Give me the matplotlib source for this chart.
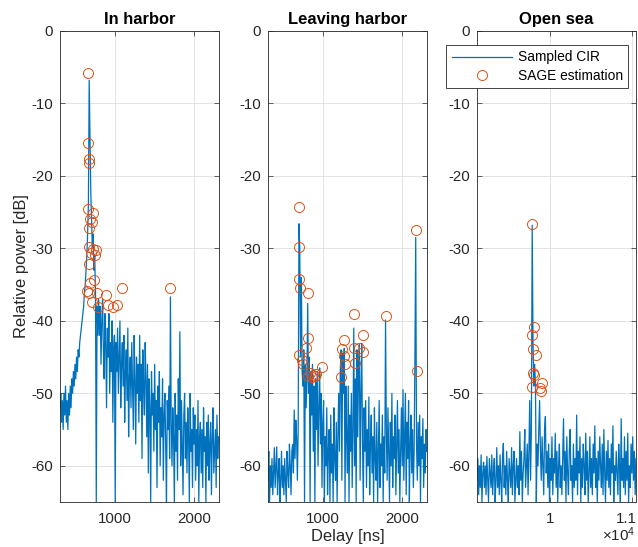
import numpy as np
import matplotlib
matplotlib.use("Agg")
import matplotlib.pyplot as plt
import matplotlib.transforms as mtransforms

# sampled CIR, relative power [dB], one value every 10 ns
step = 10

harbor_start = 300
harbor_cir = [
    -52, -50, -54, -51, -55, -50, -53, -49, -54, -51,
    -55, -50, -53, -49, -52, -48, -50, -47, -49, -46,
    -48, -45, -47, -44, -45, -43, -42, -41, -40, -39,
    -38, -36, -35, -33, -31, -28, -24, -6.8, -14, -22,
    -26, -30, -28, -33, -31, -36, -65, -38, -42, -37,
    -42, -38, -46, -40, -37, -44, -48, -39, -43, -52,
    -41, -45, -39, -50, -43, -47, -40, -54, -44, -42,
    -65, -43, -47, -41, -50, -45, -40, -52, -46, -43,
    -49, -42, -54, -47, -44, -51, -41, -56, -48, -45,
    -52, -43, -49, -55, -42, -48, -57, -45, -50, -46,
    -54, -42, -51, -46, -59, -44, -49, -53, -43, -48,
    -56, -46, -61, -48, -52, -65, -47, -53, -50, -58,
    -46, -55, -51, -63, -49, -54, -47, -60, -52, -56,
    -48, -62, -53, -50, -57, -65, -51, -55, -49, -59,
    -36.7, -54, -60, -52, -56, -65, -50, -58, -53, -62,
    -48, -55, -41.5, -60, -51, -57, -64, -53, -50, -59,
    -54, -61, -52, -56, -65, -50, -58, -55, -63, -52,
    -57, -53, -62, -55, -60, -51, -65, -56, -54, -61,
    -55, -63, -52, -58, -56, -65, -54, -60, -53, -62,
    -57, -54, -64, -56, -52, -61, -58, -55, -63, -53,
    -59, -56,
]

leaving_start = 310
leaving_cir = [
    -62, -58, -65, -60, -63, -59, -64, -61, -57.5, -63,
    -60, -57.4, -64, -61, -59, -65, -62, -58, -63, -60,
    -64, -59, -62, -65, -58, -61, -63, -57, -60, -64,
    -58, -57.1, -61, -52.3, -59, -53.7, -56, -62, -55, -26.6,
    -30, -45, -34, -47, -49, -44, -65, -46, -52, -48,
    -37.6, -50, -45, -65, -47, -53, -46, -58, -49, -65,
    -48, -55, -47, -60, -52, -46.5, -57, -50, -63, -54,
    -51, -65, -56, -60, -52, -64, -58, -55, -65, -53,
    -61, -57, -65, -52, -59, -62, -54, -65, -56, -50,
    -58, -47, -44, -62, -44.5, -50, -43.8, -65, -49, -56,
    -61, -49, -65, -53, -58, -50, -63, -55, -41, -60,
    -48, -65, -44, -56, -47, -43.3, -62, -50, -43.1, -57,
    -65, -52, -58, -51, -63, -55, -60, -50.5, -64, -57,
    -53, -61, -56, -65, -52, -59, -62, -54, -65, -58,
    -51, -63, -57, -60, -53, -65, -56, -61, -39.9, -55,
    -62, -52, -58, -65, -54, -60, -50, -63, -56, -59,
    -53, -64, -57, -51, -61, -55, -65, -58, -52, -60,
    -49.5, -62, -56, -50, -64, -54, -59, -51, -65, -57,
    -53, -61, -55, -63, -58, -44.9, -28.5, -57, -62, -54,
    -60, -53, -65, -56, -59, -53.5, -63, -57, -61, -55,
    -58,
]

opensea_start = 9115
opensea_cir = [
    -62, -59, -64, -60, -63, -58.5, -65, -61, -59.5, -63,
    -60, -64, -58.7, -62, -65, -59, -61, -63, -58.5, -64,
    -61, -59, -65, -62, -57.5, -63, -60, -64, -58.5, -62,
    -65, -59, -56.9, -63, -60, -64, -58, -62, -65, -59,
    -61, -63, -57.5, -64, -60, -58, -65, -62, -59, -63,
    -60, -64, -55.3, -62, -58, -65, -61, -59, -55, -63,
    -60, -57, -64, -58, -51, -62, -55, -26.8, -43, -49,
    -46, -49, -65, -57, -60, -55, -51, -58, -62, -56,
    -60, -64, -55, -53.2, -61, -58, -63, -57, -65, -59,
    -62, -56, -64, -59, -61, -55.5, -63, -58, -65, -60,
    -57, -63, -60, -64, -59, -53.5, -62, -58, -65, -56,
    -61, -64, -58, -55, -62, -60, -65, -57, -63, -59,
    -62, -53, -64, -58, -61, -56, -65, -59, -63, -57,
    -60, -64, -55.5, -62, -58, -65, -61, -56, -63, -59,
    -64, -57, -61, -54.5, -63, -59, -65, -58, -62, -56,
    -60, -63, -57, -64, -55, -61, -65, -58, -62, -56.5,
    -63, -59, -64, -57, -61, -54.5, -65, -60, -62, -58,
    -61, -64, -57, -60, -65, -53.5, -62, -59, -63, -56,
    -64, -58, -62, -55.5, -65, -60, -63, -57, -61, -56,
    -62, -58, -64, -59,
]

# SAGE estimated paths (delay [ns], power [dB])
harbor_sage_delay = [658, 660, 671, 671, 650, 722, 683, 701, 671, 671,
                     722, 756, 692, 743, 663, 727, 683, 638, 671, 768,
                     882, 1081, 1696, 705, 777, 904, 975, 1022]
harbor_sage_power = [-5.8, -15.5, -17.6, -18.2, -24.5, -25.1, -26.0, -26.3, -27.2, -29.8,
                     -30.1, -30.2, -30.7, -30.9, -32.2, -34.4, -34.8, -35.9, -36.2, -36.1,
                     -36.4, -35.5, -35.4, -37.4, -38.1, -37.8, -38.1, -37.8]

leaving_sage_delay = [706, 706, 706, 712, 815, 815, 790, 706, 735, 745,
                      815, 836, 860, 878, 900, 920, 987, 1271, 1238, 1263,
                      1280, 1225, 1397, 1450, 1500, 1500, 1405, 1397, 1795, 2168, 2180]
leaving_sage_power = [-24.3, -29.8, -34.2, -35.4, -36.2, -42.3, -43.7, -44.7, -45.4, -45.9,
                      -47.6, -47.2, -47.8, -47.5, -47.6, -47.3, -46.4, -42.7, -43.9, -44.8,
                      -46.0, -47.7, -43.8, -43.7, -41.9, -44.3, -45.8, -39.0, -39.3, -27.5, -46.9]

opensea_sage_delay = [9785, 9805, 9785, 9793, 9826, 9793, 9805, 9785, 9899, 9878, 9887]
opensea_sage_power = [-26.7, -40.8, -42.0, -43.9, -44.7, -47.2, -47.5, -49.1, -48.6, -49.3, -49.7]

titles = ["In harbor", "Leaving harbor", "Open sea"]


def main():
    plt.rcParams['font.family'] = ['Liberation Sans', 'DejaVu Sans']
    plt.rcParams['axes.unicode_minus'] = False
    plt.rcParams['mathtext.default'] = 'regular'

    fig = plt.figure(figsize=(6.38, 5.47), dpi=100)

    lineColor = '#0072BD'
    markColor = '#D95319'
    axisColor = '#262626'

    panels = [
        (harbor_start, harbor_cir, harbor_sage_delay, harbor_sage_power, (300, 2316), [1000, 2000], ['1000', '2000']),
        (leaving_start, leaving_cir, leaving_sage_delay, leaving_sage_power, (310, 2312), [1000, 2000], ['1000', '2000']),
        (opensea_start, opensea_cir, opensea_sage_delay, opensea_sage_power, (9115, 11045), [10000, 11000], ['1', '1.1']),
    ]
    lefts = [60 / 638, 268 / 638, 477 / 638]

    axes = []
    for k in range(3):
        start, cir, sDelay, sPower, xlim, xt, xtl = panels[k]
        ax = fig.add_axes([lefts[k], 45 / 547, 159 / 638, 471 / 547])
        axes.append(ax)

        delay = start + step * np.arange(len(cir))
        ax.plot(delay, cir, color=lineColor, linewidth=0.9, label='Sampled CIR')
        ax.plot(sDelay, sPower, 'o', markerfacecolor='none', markeredgecolor=markColor,
                markersize=7.2, markeredgewidth=0.7, label='SAGE estimation')

        ax.set_xlim(xlim)
        ax.set_ylim(-65, 0)
        ax.set_xticks(xt)
        ax.set_xticklabels(xtl)
        ax.set_yticks(range(-60, 1, 10))
        ax.grid(True, color='#dedede', linewidth=0.6)
        ax.set_axisbelow(True)
        ax.tick_params(direction='in', top=True, right=True, length=3.5, width=0.5,
                       color=axisColor, labelcolor=axisColor, labelsize=10.8, pad=5)
        ax.tick_params(axis='x', pad=7)
        for sp in ax.spines.values():
            sp.set_color(axisColor)
            sp.set_linewidth(0.6)
        ax.set_title(titles[k], fontsize=11.9, fontweight='bold', color='black', pad=5)

    # keep the "1.1" label inside the figure
    lab = axes[2].get_xticklabels()[-1]
    lab.set_transform(lab.get_transform() + mtransforms.ScaledTranslation(-4 / 72, 0, fig.dpi_scale_trans))

    axes[0].set_ylabel('Relative power [dB]', fontsize=11.9, color=axisColor, labelpad=2)
    axes[1].set_xlabel('Delay [ns]', fontsize=11.9, color=axisColor, labelpad=2)
    axes[2].text(0.995, -0.07, r'$\times10^{4}$', transform=axes[2].transAxes,
                 ha='right', va='center', fontsize=10.8, color=axisColor)

    leg = axes[2].legend(loc='upper right', bbox_to_anchor=(628.3 / 638, 1 - 45 / 547),
                         bbox_transform=fig.transFigure, borderaxespad=0, fontsize=9.9,
                         handlelength=4.4, handletextpad=0.4, borderpad=0.4,
                         labelspacing=0.3, numpoints=1, fancybox=False, framealpha=1)
    leg.get_frame().set_edgecolor(axisColor)
    leg.get_frame().set_linewidth(0.6)

    fig.savefig('out.png', dpi=100)


if __name__ == "__main__":
    main()
